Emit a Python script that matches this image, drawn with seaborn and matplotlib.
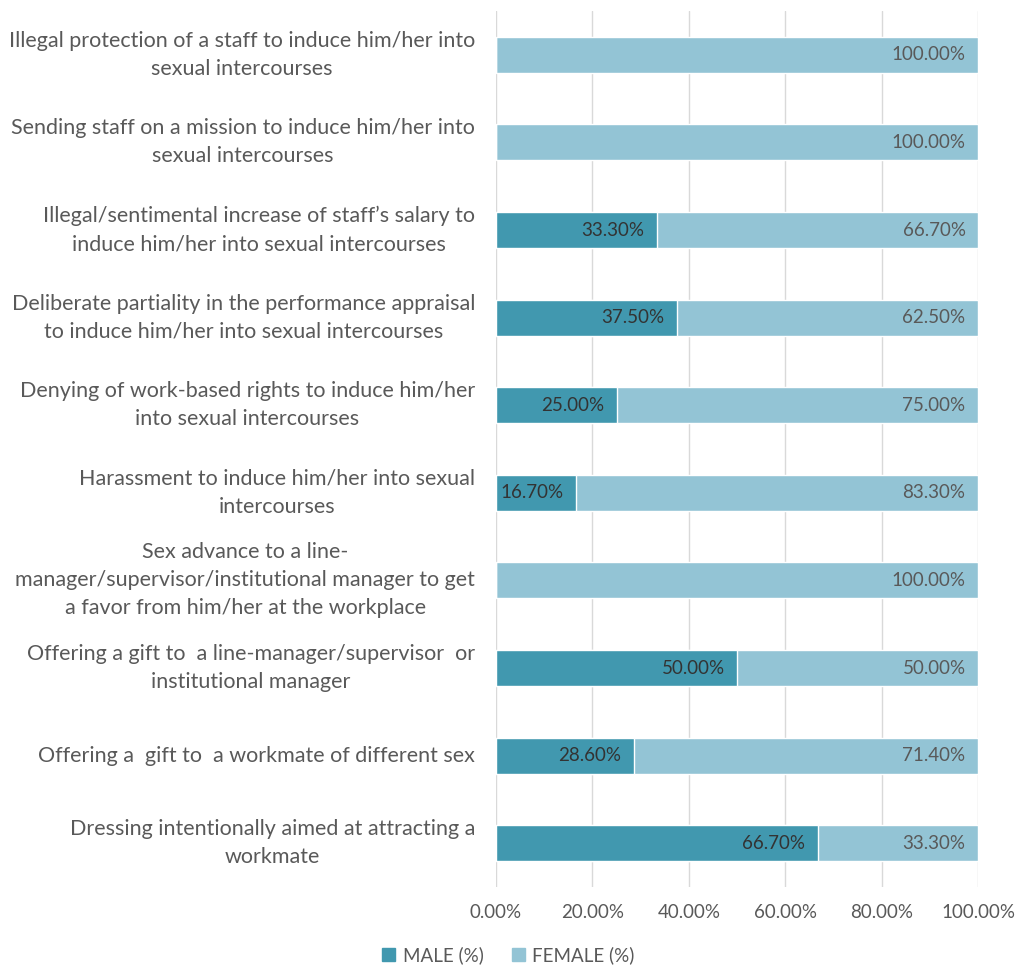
import matplotlib
matplotlib.use("Agg")
import matplotlib.pyplot as plt
import seaborn as sns
import pandas as pd
from matplotlib.patches import Patch

categories = [
    "Illegal protection of a staff to induce him/her into\nsexual intercourses",
    "Sending staff on a mission to induce him/her into\nsexual intercourses",
    "Illegal/sentimental increase of staff\u2019s salary to\ninduce him/her into sexual intercourses",
    "Deliberate partiality in the performance appraisal\nto induce him/her into sexual intercourses",
    "Denying of work-based rights to induce him/her\ninto sexual intercourses",
    "Harassment to induce him/her into sexual\nintercourses",
    "Sex advance to a line-\nmanager/supervisor/institutional manager to get\na favor from him/her at the workplace",
    "Offering a gift to  a line-manager/supervisor  or\ninstitutional manager",
    "Offering a  gift to  a workmate of different sex",
    "Dressing intentionally aimed at attracting a\nworkmate",
]
male = [0, 0, 33.3, 37.5, 25.0, 16.7, 0, 50.0, 28.6, 66.7]
female = [100.0, 100.0, 66.7, 62.5, 75.0, 83.3, 100.0, 50.0, 71.4, 33.3]
xticks = [0, 20, 40, 60, 80, 100]

MALE_COLOR = "#4198af"
FEMALE_COLOR = "#93c4d5"
TEXT_COLOR = "#595959"
LABEL_COLOR = "#333333"

sns.set_style("white")
plt.rcParams["font.family"] = ["Lato", "DejaVu Sans"]

df = pd.DataFrame({"category": categories, "male": male, "female": female})
df["total"] = df["male"] + df["female"]

fig = plt.figure(figsize=(10.17, 9.69), dpi=100)
ax = fig.add_axes([0.4877, 0.0846, 0.474, 0.904])

sns.barplot(data=df, y="category", x="total", color=FEMALE_COLOR,
            width=0.41, saturation=1, ax=ax, zorder=2)
sns.barplot(data=df, y="category", x="male", color=MALE_COLOR,
            width=0.41, saturation=1, ax=ax, zorder=3)

# data labels, right aligned inside the end of each segment
for i, row in df.iterrows():
    if row["male"] > 0:
        ax.annotate(f"{row['male']:.2f}%", xy=(row["male"], i),
                    xytext=(-9, 0), textcoords="offset points",
                    ha="right", va="center", fontsize=13.5,
                    color=LABEL_COLOR, zorder=4)
    ax.annotate(f"{row['female']:.2f}%", xy=(row["total"], i),
                xytext=(-9, 0), textcoords="offset points",
                ha="right", va="center", fontsize=13.5,
                color=TEXT_COLOR, zorder=4)

ax.set_xlim(0, 100)
ax.set_xticks(xticks)
ax.set_xticklabels([f"{t:.2f}%" for t in xticks], fontsize=13.5, color=TEXT_COLOR)
ax.set_yticks(range(len(categories)))
ax.set_yticklabels(categories, fontsize=15.5, color=TEXT_COLOR,
                   multialignment="center", linespacing=1.5, va="center")
ax.tick_params(axis="both", length=0)
ax.tick_params(axis="y", pad=15)
ax.tick_params(axis="x", pad=12)
ax.set_xlabel("")
ax.set_ylabel("")
ax.grid(axis="x", color="#d9d9d9", linewidth=1, zorder=0)
ax.set_axisbelow(True)
for s in ax.spines.values():
    s.set_visible(False)

handles = [Patch(color=MALE_COLOR, label="MALE (%)"),
           Patch(color=FEMALE_COLOR, label="FEMALE (%)")]
leg = fig.legend(handles=handles, loc="lower center", ncol=2, frameon=False,
                 bbox_to_anchor=(0.5, -0.012), fontsize=13.5,
                 handlelength=0.7, handleheight=0.7, handletextpad=0.4,
                 columnspacing=1.5)
for t in leg.get_texts():
    t.set_color(TEXT_COLOR)

fig.savefig("out.png", dpi=100)
